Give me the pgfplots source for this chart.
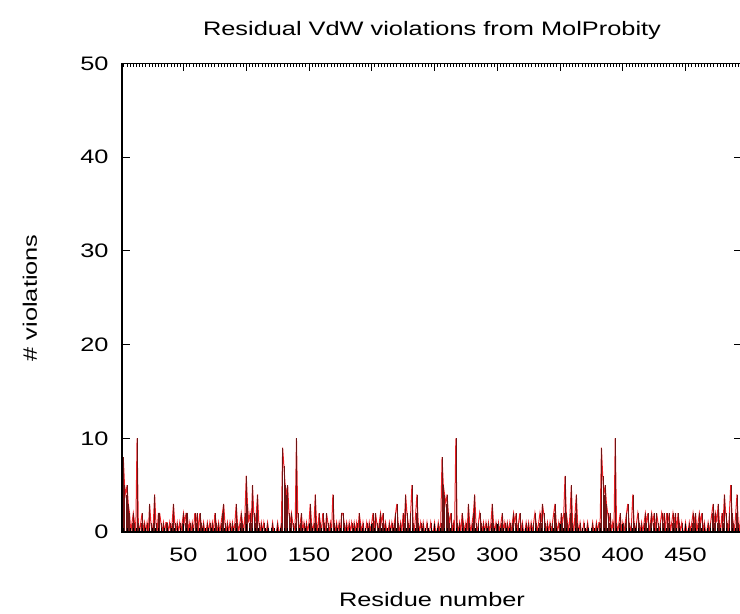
\documentclass[border=0pt]{standalone}
\usepackage{fontspec}
\setmainfont[FakeStretch=1.3]{Liberation Sans}
\usepackage{pgfplots}
\pgfplotsset{compat=1.18}
\usepackage{pgfplotstable}
\definecolor{lred}{RGB}{235,30,35}
\definecolor{dred}{RGB}{110,20,20}
\pgfplotstableread[row sep=\\]{
x y\\
1 6\\ 2 8\\ 3 5\\ 4 4\\ 5 5\\ 6 3\\ 7 2\\ 8 0\\ 9 1\\ 10 2\\
11 1\\ 12 0\\ 13 10\\ 14 1\\ 15 0\\ 16 1\\ 17 2\\ 18 0\\ 19 1\\ 20 0\\
21 1\\ 22 0\\ 23 3\\ 24 1\\ 25 0\\ 26 1\\ 27 4\\ 28 1\\ 29 0\\ 30 2\\
31 2\\ 32 1\\ 33 0\\ 34 1\\ 35 0\\ 36 1\\ 37 1\\ 38 0\\ 39 1\\ 40 0\\
41 1\\ 42 3\\ 43 1\\ 44 0\\ 45 1\\ 46 0\\ 47 1\\ 48 0\\ 49 1\\ 50 2\\
51 1\\ 52 2\\ 53 2\\ 54 0\\ 55 1\\ 56 0\\ 57 1\\ 58 0\\ 59 2\\ 60 1\\
61 2\\ 62 0\\ 63 2\\ 64 1\\ 65 0\\ 66 1\\ 67 0\\ 68 0\\ 69 1\\ 70 0\\
71 1\\ 72 0\\ 73 1\\ 74 0\\ 75 2\\ 76 1\\ 77 0\\ 78 1\\ 79 0\\ 80 1\\
81 2\\ 82 3\\ 83 1\\ 84 0\\ 85 1\\ 86 0\\ 87 1\\ 88 0\\ 89 1\\ 90 0\\
91 1\\ 92 3\\ 93 1\\ 94 0\\ 95 1\\ 96 2\\ 97 1\\ 98 0\\ 99 2\\ 100 6\\
101 3\\ 102 1\\ 103 2\\ 104 1\\ 105 5\\ 106 2\\ 107 1\\ 108 2\\ 109 4\\ 110 1\\
111 0\\ 112 1\\ 113 0\\ 114 1\\ 115 0\\ 116 0\\ 117 1\\ 118 0\\ 119 0\\ 120 0\\
121 1\\ 122 0\\ 123 0\\ 124 0\\ 125 1\\ 126 0\\ 127 0\\ 128 1\\ 129 9\\ 130 7\\
131 5\\ 132 4\\ 133 5\\ 134 2\\ 135 1\\ 136 2\\ 137 1\\ 138 0\\ 139 1\\ 140 10\\
141 2\\ 142 0\\ 143 1\\ 144 2\\ 145 0\\ 146 1\\ 147 0\\ 148 1\\ 149 0\\ 150 1\\
151 3\\ 152 1\\ 153 0\\ 154 1\\ 155 4\\ 156 1\\ 157 0\\ 158 2\\ 159 1\\ 160 0\\
161 2\\ 162 1\\ 163 0\\ 164 2\\ 165 1\\ 166 0\\ 167 1\\ 168 0\\ 169 4\\ 170 1\\
171 0\\ 172 1\\ 173 0\\ 174 1\\ 175 0\\ 176 2\\ 177 2\\ 178 1\\ 179 0\\ 180 1\\
181 0\\ 182 1\\ 183 0\\ 184 1\\ 185 0\\ 186 1\\ 187 0\\ 188 1\\ 189 0\\ 190 2\\
191 1\\ 192 0\\ 193 1\\ 194 0\\ 195 0\\ 196 1\\ 197 0\\ 198 1\\ 199 0\\ 200 1\\
201 2\\ 202 0\\ 203 2\\ 204 1\\ 205 0\\ 206 1\\ 207 2\\ 208 1\\ 209 2\\ 210 0\\
211 1\\ 212 0\\ 213 0\\ 214 1\\ 215 0\\ 216 1\\ 217 0\\ 218 1\\ 219 2\\ 220 3\\
221 1\\ 222 0\\ 223 1\\ 224 0\\ 225 2\\ 226 1\\ 227 4\\ 228 2\\ 229 1\\ 230 0\\
231 2\\ 232 5\\ 233 1\\ 234 0\\ 235 2\\ 236 4\\ 237 1\\ 238 0\\ 239 1\\ 240 0\\
241 1\\ 242 0\\ 243 0\\ 244 1\\ 245 0\\ 246 0\\ 247 1\\ 248 0\\ 249 0\\ 250 1\\
251 0\\ 252 0\\ 253 1\\ 254 0\\ 255 1\\ 256 8\\ 257 5\\ 258 4\\ 259 3\\ 260 4\\
261 2\\ 262 1\\ 263 2\\ 264 0\\ 265 1\\ 266 0\\ 267 10\\ 268 1\\ 269 0\\ 270 1\\
271 0\\ 272 2\\ 273 1\\ 274 0\\ 275 1\\ 276 0\\ 277 3\\ 278 1\\ 279 0\\ 280 1\\
281 2\\ 282 4\\ 283 1\\ 284 0\\ 285 1\\ 286 2\\ 287 1\\ 288 0\\ 289 1\\ 290 0\\
291 1\\ 292 0\\ 293 1\\ 294 0\\ 295 1\\ 296 3\\ 297 1\\ 298 0\\ 299 1\\ 300 0\\
301 1\\ 302 0\\ 303 1\\ 304 2\\ 305 0\\ 306 1\\ 307 0\\ 308 1\\ 309 0\\ 310 1\\
311 0\\ 312 1\\ 313 2\\ 314 1\\ 315 2\\ 316 0\\ 317 1\\ 318 2\\ 319 0\\ 320 1\\
321 0\\ 322 0\\ 323 1\\ 324 0\\ 325 1\\ 326 0\\ 327 1\\ 328 0\\ 329 1\\ 330 2\\
331 1\\ 332 0\\ 333 1\\ 334 2\\ 335 1\\ 336 3\\ 337 2\\ 338 1\\ 339 0\\ 340 1\\
341 0\\ 342 1\\ 343 0\\ 344 1\\ 345 2\\ 346 3\\ 347 1\\ 348 0\\ 349 1\\ 350 0\\
351 2\\ 352 1\\ 353 2\\ 354 6\\ 355 2\\ 356 1\\ 357 0\\ 358 2\\ 359 5\\ 360 1\\
361 0\\ 362 2\\ 363 4\\ 364 1\\ 365 0\\ 366 1\\ 367 0\\ 368 0\\ 369 1\\ 370 0\\
371 0\\ 372 1\\ 373 0\\ 374 0\\ 375 0\\ 376 1\\ 377 0\\ 378 0\\ 379 1\\ 380 0\\
381 1\\ 382 1\\ 383 9\\ 384 6\\ 385 4\\ 386 5\\ 387 3\\ 388 2\\ 389 1\\ 390 2\\
391 0\\ 392 1\\ 393 0\\ 394 10\\ 395 1\\ 396 0\\ 397 1\\ 398 2\\ 399 0\\ 400 1\\
401 0\\ 402 1\\ 403 2\\ 404 3\\ 405 1\\ 406 0\\ 407 1\\ 408 4\\ 409 1\\ 410 0\\
411 1\\ 412 2\\ 413 1\\ 414 0\\ 415 1\\ 416 0\\ 417 1\\ 418 2\\ 419 1\\ 420 2\\
421 0\\ 422 1\\ 423 2\\ 424 1\\ 425 2\\ 426 0\\ 427 2\\ 428 1\\ 429 0\\ 430 1\\
431 2\\ 432 1\\ 433 2\\ 434 0\\ 435 2\\ 436 1\\ 437 2\\ 438 0\\ 439 1\\ 440 2\\
441 1\\ 442 2\\ 443 0\\ 444 2\\ 445 1\\ 446 0\\ 447 1\\ 448 0\\ 449 0\\ 450 1\\
451 0\\ 452 0\\ 453 1\\ 454 0\\ 455 1\\ 456 2\\ 457 1\\ 458 2\\ 459 0\\ 460 1\\
461 2\\ 462 1\\ 463 2\\ 464 0\\ 465 1\\ 466 0\\ 467 0\\ 468 1\\ 469 0\\ 470 1\\
471 2\\ 472 3\\ 473 1\\ 474 2\\ 475 1\\ 476 3\\ 477 1\\ 478 0\\ 479 2\\ 480 1\\
481 4\\ 482 2\\ 483 1\\ 484 0\\ 485 2\\ 486 5\\ 487 2\\ 488 1\\ 489 0\\ 490 2\\
491 4\\ 492 1\\ 493 0\\ 494 2\\
}\resdata
\begin{document}
\begin{tikzpicture}
\begin{axis}[
  name=ax,
  scale only axis,
  width=620pt, height=468.5pt,
  xmin=1, xmax=495, ymin=0, ymax=50,
  xtick={50,100,...,450},
  ytick={0,10,...,50},
  minor xtick={2.5,5,...,495},
  tick align=inside,
  major tick length=8pt,
  minor tick length=4pt,
  every tick/.style={black, line width=1pt},
  minor tick style={black, line width=0.8pt},
  axis line style={black, line width=1.8pt},
  ticklabel style={font=\fontsize{19.5}{22}\selectfont},
  /pgf/number format/assume math mode=true,
  xticklabel style={yshift=-12pt},
  yticklabel style={xshift=-10pt},
  axis on top,
]
\addplot[lred, line width=1pt, sharp plot] table[x=x,y=y] {\resdata};
\addplot[dred, line width=0.35pt, ycomb] table[x=x,y=y] {\resdata};
\end{axis}
\node[font=\fontsize{19.5}{22}\selectfont, rotate=90] at ([xshift=-92pt]ax.west) {\# violations};
\node[font=\fontsize{19.5}{22}\selectfont] at ([yshift=-68pt]ax.south) {Residue number};
\node[font=\fontsize{19.5}{22}\selectfont] at ([yshift=33.5pt]ax.north) {Residual VdW violations from MolProbity};
\pgfresetboundingbox
\path[use as bounding box] ([xshift=-122pt,yshift=-82pt]ax.south west) rectangle ([xshift=-2pt,yshift=63.5pt]ax.north east);
\end{tikzpicture}
\end{document}
